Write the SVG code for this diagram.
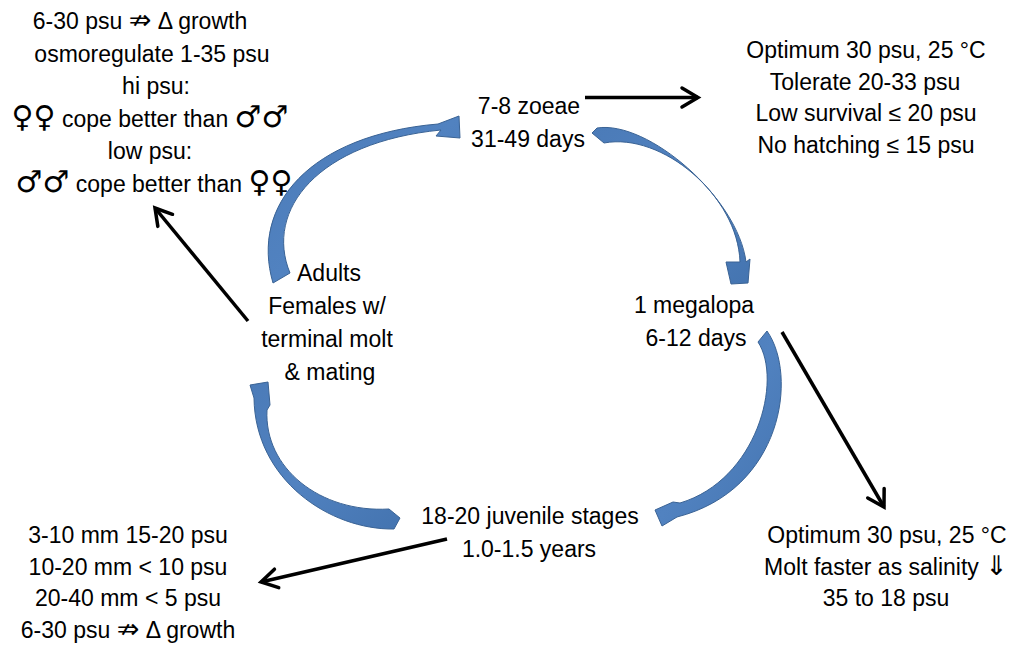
<svg xmlns="http://www.w3.org/2000/svg" width="1018" height="647" viewBox="0 0 1018 647">
<style>
text{font-family:"Liberation Sans",Arial,"DejaVu Sans",sans-serif;font-size:23px;fill:#000;text-anchor:middle}
.sym{font-family:"DejaVu Sans",sans-serif;font-size:30px}
.arr{font-family:"DejaVu Sans",sans-serif;font-size:27px}
.cur{fill:url(#blue);stroke:#3a6395;stroke-width:1;stroke-linejoin:round}
.ln{stroke:#000;stroke-width:3.5;fill:none;marker-end:url(#chev)}
</style>
<defs>
<linearGradient id="blue" x1="0" y1="0" x2="1" y2="1">
<stop offset="0" stop-color="#4b7bb8"/>
<stop offset="0.5" stop-color="#5182c0"/>
<stop offset="1" stop-color="#4474b0"/>
</linearGradient>
<marker id="chev" markerUnits="userSpaceOnUse" markerWidth="24" markerHeight="26" viewBox="0 0 24 26" refX="20" refY="13" orient="auto">
<path d="M4,3.5 L20,13 L4,22.5" fill="none" stroke="#000" stroke-width="3.5" stroke-linecap="round" stroke-linejoin="miter"/>
</marker>
</defs>
<rect width="1018" height="647" fill="#fff"/>
<g id="connectors">
<path class="cur" d="M273,283 C250,205 310,135 438,124 L459,116 L460,138 L436,136 L441,130 C318,142 264,210 290,273 Z"/>
<path class="cur" d="M597,128 C648,120 738,198 746,262 L750,259 L748,283 L731,284 L726,262 L740,262 C738,196 662,132 604,143 L592,133 Z"/>
<path class="cur" d="M767,331 C798,375 783,490 677,517 L662,526 L655,510 L673,502 L680,503 C757,480 783,380 758,342 Z"/>
<path class="cur" d="M394,529 C330,530 255,480 254,398 L250,385 L268,382 L270,405 L267,410 C264,468 320,513 389,509 L400,518 Z"/>
<line class="ln" x1="585" y1="97.5" x2="698" y2="97.5"/>
<line class="ln" x1="248" y1="321" x2="155" y2="208"/>
<line class="ln" x1="782" y1="332" x2="884" y2="507"/>
<line class="ln" x1="447" y1="539" x2="261" y2="582"/>
</g>
<g id="zoeae"><text x="529" y="114">7-8 zoeae</text><text x="528" y="147">31-49 days</text></g>
<g id="megalopa"><text x="694" y="313">1 megalopa</text><text x="696" y="346">6-12 days</text></g>
<g id="juvenile"><text x="530" y="524">18-20 juvenile stages</text><text x="529" y="557">1.0-1.5 years</text></g>
<g id="adults"><text x="329" y="281">Adults</text><text x="327" y="314">Females w/</text><text x="327" y="347">terminal molt</text><text x="330" y="380">&amp; mating</text></g>
<g id="note-adults">
<text x="140" y="29">6-30 psu <tspan class="arr">⇏</tspan> Δ growth</text>
<text x="152" y="61.6">osmoregulate 1-35 psu</text>
<text x="156" y="94.2">hi psu:</text>
<text x="150" y="126.8"><tspan class="sym">♀♀</tspan> cope better than <tspan class="sym">♂♂</tspan></text>
<text x="150" y="159.4">low psu:</text>
<text x="154" y="192"><tspan class="sym">♂♂</tspan> cope better than <tspan class="sym">♀♀</tspan></text>
</g>
<g id="note-zoeae">
<text x="866" y="58">Optimum 30 psu, 25 °C</text>
<text x="865" y="89.5">Tolerate 20-33 psu</text>
<text x="866" y="121">Low survival ≤ 20 psu</text>
<text x="866" y="152.5">No hatching ≤ 15 psu</text>
</g>
<g id="note-megalopa">
<text x="887" y="543">Optimum 30 psu, 25 °C</text>
<text x="886" y="574.5">Molt faster as salinity <tspan class="arr" font-size="24">⇓</tspan></text>
<text x="886" y="606">35 to 18 psu</text>
</g>
<g id="note-juvenile">
<text x="128" y="543">3-10 mm 15-20 psu</text>
<text x="128" y="574.5">10-20 mm &lt; 10 psu</text>
<text x="128" y="606">20-40 mm &lt; 5 psu</text>
<text x="128" y="637.5">6-30 psu <tspan class="arr">⇏</tspan> Δ growth</text>
</g>
</svg>
